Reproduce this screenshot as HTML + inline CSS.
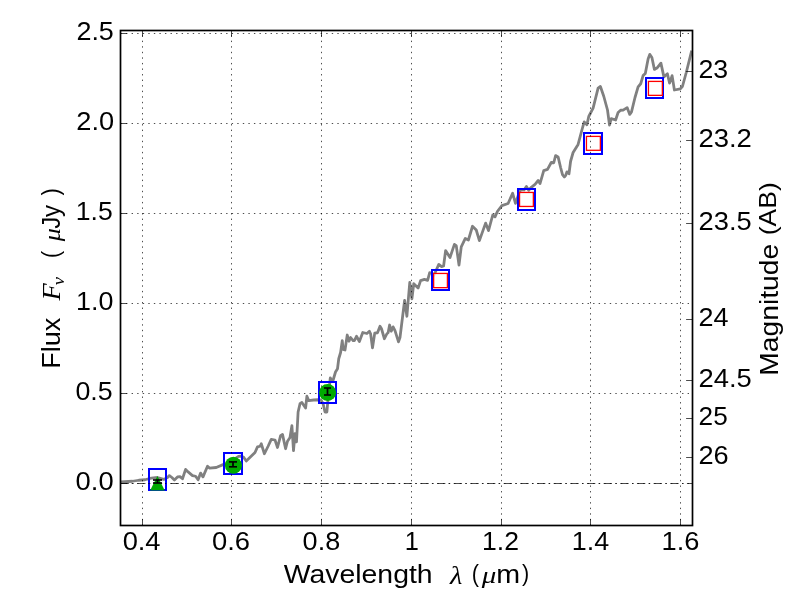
<!DOCTYPE html>
<html lang="en">
<head>
<meta charset="utf-8">
<title>Flux vs Wavelength</title>
<style>
html,body{margin:0;padding:0;background:#fff;}
body{width:800px;height:600px;overflow:hidden;font-family:"Liberation Sans",sans-serif;}
svg{display:block;}
text{fill:#000;}
</style>
</head>
<body>
<svg width="800" height="600" viewBox="0 0 800 600">
<rect x="0" y="0" width="800" height="600" fill="#ffffff"/>
<defs><clipPath id="ax"><rect x="120.5" y="30.5" width="572.0" height="495.0"/></clipPath></defs>
<g clip-path="url(#ax)">
<polyline points="120.5,482 132.5,481.25 138.75,480.25 145,479.75 151.25,478.1 157.5,477.5 163.75,479.4 167.5,477.5 169.4,475.6 171.9,477.5 174.4,480 177.5,476.9 180,476.6 182.5,478.75 185.6,469.4 188.1,471.9 192.5,475.6 195.6,476.25 198.1,479.75 200.6,473.1 203,476.9 207.5,466.25 209.4,468.1 216.25,467.5 223.1,464.6 229,463 234.5,460 236.5,457.6 238.5,456.4 240.5,456.1 243.5,457 246.25,461 255,452.5 257.5,446.9 260,446.25 261.25,443.75 264.4,453.75 268.1,446.25 271.25,439.4 275,440 277.5,447.5 280.6,435.6 282.5,434.4 285.6,448.75 287.5,441.25 290,437.5 291.9,425.6 293.5,450.6 295,433.75 296.5,441.9 298.1,412 300,403.75 301.9,402.5 305.6,408.1 306.9,396.25 308.75,400.6 313.75,400 318.1,399.75 321,400 323.1,403.75 325,412 326.9,412 327.6,403.75 329,390 330.3,377.8 331.5,380.5 333,380.5 335.5,372 337.5,368.75 338.75,358.75 340.6,352.5 342.25,340.6 343.1,349.4 345,350 347.25,335 349,341.25 350.6,337.5 353.1,340.6 354.4,340.6 356.5,336.25 359.4,341.5 362.75,332.5 366.9,333.5 369.4,331.25 370.6,333.75 372.5,347.75 374.75,333.1 377.5,332.75 380,326.25 381.5,328.75 384.4,338.75 386.9,333.75 388.1,332.75 389.6,325 391.25,331.25 393.1,326.9 395,330.6 398.5,341.9 400,337.5 403.1,312.5 404.6,300.5 406.9,316.25 409.75,282.5 411.9,298.75 413.75,283.75 418.1,288.1 420.6,280.6 424.4,279.4 427.6,280.3 429.7,272.6 431.5,273.2 434,275.2 436.5,269.5 438.8,264.4 441.6,266.6 443.6,266 445.6,250.6 450,257.5 454.4,244.4 456.25,245.6 459,265 461.25,246.9 465.3,238.4 468.4,240 472.5,226.25 476.25,230 479.4,240.6 485.6,223.1 488.5,230.6 492.75,215 495,216.9 497.5,211.25 501.9,205.6 508.1,203.5 512.6,193.2 515.5,203.4 517.75,196.9 519.5,191.5 521.5,189.6 524,190 526.4,186.4 528.7,190.2 531.3,187.3 535,184.4 538.2,180.5 540,183.6 543.75,170.6 547.5,169.4 551.25,162.5 553.75,162.75 555.6,155.6 558.1,156.9 560.6,167.5 562.5,174.6 564.3,177 565.7,175.3 566.9,171.9 569,173.75 570.6,161.25 573.1,152.5 578.1,144.4 581.9,130 584.2,121.9 586.9,124.7 588.75,116.5 593.1,108.1 598.1,88.1 600.4,86.5 603.75,96.25 607.5,110 609.5,125 611.25,118.7 615.6,120 618.1,112.5 620.6,110.25 623.1,110.1 627.1,107.6 629.75,114.4 631.5,111.9 635,97.5 638.1,86.9 640.7,83.75 643.1,75.6 645.3,73.4 648.1,59 649.75,54.4 651.9,57.5 654.4,69.4 656.9,68.1 660.9,63.1 663.9,76.9 667.4,73.75 669.6,83.1 672.1,75.6 674.4,90 680.3,88.9 682.5,86.25 686.25,72.5 691.7,50.6" fill="none" stroke="#808080" stroke-width="2.78" stroke-linejoin="round" stroke-linecap="butt"/>
<line x1="120.5" y1="483.5" x2="692.5" y2="483.5" stroke="#000" stroke-width="0.7" stroke-dasharray="8.33 3.47 1.39 3.47"/>
<rect x="149" y="469" width="17" height="21" fill="none" stroke="#0000ff" stroke-width="2.0"/>
<rect x="224" y="453" width="18" height="21" fill="none" stroke="#0000ff" stroke-width="2.0"/>
<rect x="319" y="382" width="17" height="21" fill="none" stroke="#0000ff" stroke-width="2.0"/>
<rect x="432" y="270" width="17" height="20" fill="none" stroke="#0000ff" stroke-width="2.0"/>
<rect x="518" y="189" width="17" height="21" fill="none" stroke="#0000ff" stroke-width="2.0"/>
<rect x="584" y="133" width="18" height="21" fill="none" stroke="#0000ff" stroke-width="2.0"/>
<rect x="646" y="78" width="17" height="20" fill="none" stroke="#0000ff" stroke-width="2.0"/>
<rect x="433.65" y="273.45" width="13.75" height="14.2" fill="#ffffff" fill-opacity="0.8" stroke="#ff0000" stroke-width="1.3"/>
<rect x="519.55" y="192.45" width="13.8" height="14" fill="#ffffff" fill-opacity="0.8" stroke="#ff0000" stroke-width="1.3"/>
<rect x="586.45" y="136.4" width="13.9" height="13.9" fill="#ffffff" fill-opacity="0.8" stroke="#ff0000" stroke-width="1.3"/>
<rect x="648.45" y="81.41" width="13.9" height="13.94" fill="#ffffff" fill-opacity="0.8" stroke="#ff0000" stroke-width="1.3"/>
</g>
<g stroke="#000" stroke-width="0.7" stroke-dasharray="1.39 4.17" fill="none">
<line x1="142.5" y1="525.8" x2="142.5" y2="30.5"/>
<line x1="231.5" y1="525.8" x2="231.5" y2="30.5"/>
<line x1="321.5" y1="525.8" x2="321.5" y2="30.5"/>
<line x1="411.5" y1="525.8" x2="411.5" y2="30.5"/>
<line x1="501.5" y1="525.8" x2="501.5" y2="30.5"/>
<line x1="590.5" y1="525.8" x2="590.5" y2="30.5"/>
<line x1="680.5" y1="525.8" x2="680.5" y2="30.5"/>
<line x1="120.5" y1="33.5" x2="692.5" y2="33.5"/>
<line x1="120.5" y1="123.5" x2="692.5" y2="123.5"/>
<line x1="120.5" y1="213.5" x2="692.5" y2="213.5"/>
<line x1="120.5" y1="303.5" x2="692.5" y2="303.5"/>
<line x1="120.5" y1="393.5" x2="692.5" y2="393.5"/>
<line x1="120.5" y1="483.5" x2="692.5" y2="483.5"/>
</g>
<g>
<polygon points="157.45,476.0 150.1,490.6 164.8,490.6" fill="#00aa00"/>
<circle cx="233.4" cy="465.3" r="8.55" fill="#00aa00"/>
<circle cx="327.6" cy="392.4" r="8.5" fill="#00aa00"/>
<g stroke="#000" fill="none"><line x1="157.5" y1="480.0" x2="157.5" y2="483.0" stroke-width="1.75"/><line x1="153.0" y1="480.0" x2="162.0" y2="480.0" stroke-width="1.65"/><line x1="153.0" y1="483.0" x2="162.0" y2="483.0" stroke-width="1.65"/></g>
<g stroke="#000" fill="none"><line x1="233.0" y1="461.9" x2="233.0" y2="466.8" stroke-width="1.75"/><line x1="228.95" y1="461.9" x2="237.0" y2="461.9" stroke-width="1.65"/><line x1="228.95" y1="466.8" x2="237.0" y2="466.8" stroke-width="1.65"/></g>
<g stroke="#000" fill="none"><line x1="327.5" y1="388.0" x2="327.5" y2="395.0" stroke-width="1.75"/><line x1="324.0" y1="388.0" x2="331.0" y2="388.0" stroke-width="1.65"/><line x1="324.0" y1="395.0" x2="331.0" y2="395.0" stroke-width="1.65"/></g>
</g>
<rect x="120.5" y="30.5" width="572.0" height="495.0" fill="none" stroke="#000" stroke-width="1.7"/>
<g stroke="#000" stroke-width="0.7">
<line x1="142.5" y1="525.5" x2="142.5" y2="519.1"/><line x1="142.5" y1="30.5" x2="142.5" y2="36.9"/>
<line x1="231.5" y1="525.5" x2="231.5" y2="519.1"/><line x1="231.5" y1="30.5" x2="231.5" y2="36.9"/>
<line x1="321.5" y1="525.5" x2="321.5" y2="519.1"/><line x1="321.5" y1="30.5" x2="321.5" y2="36.9"/>
<line x1="411.5" y1="525.5" x2="411.5" y2="519.1"/><line x1="411.5" y1="30.5" x2="411.5" y2="36.9"/>
<line x1="501.5" y1="525.5" x2="501.5" y2="519.1"/><line x1="501.5" y1="30.5" x2="501.5" y2="36.9"/>
<line x1="590.5" y1="525.5" x2="590.5" y2="519.1"/><line x1="590.5" y1="30.5" x2="590.5" y2="36.9"/>
<line x1="680.5" y1="525.5" x2="680.5" y2="519.1"/><line x1="680.5" y1="30.5" x2="680.5" y2="36.9"/>
<line x1="120.5" y1="33.5" x2="126.9" y2="33.5"/>
<line x1="120.5" y1="123.5" x2="126.9" y2="123.5"/>
<line x1="120.5" y1="213.5" x2="126.9" y2="213.5"/>
<line x1="120.5" y1="303.5" x2="126.9" y2="303.5"/>
<line x1="120.5" y1="393.5" x2="126.9" y2="393.5"/>
<line x1="120.5" y1="483.5" x2="126.9" y2="483.5"/>
<line x1="692.5" y1="71.5" x2="686.1" y2="71.5"/>
<line x1="692.5" y1="140.5" x2="686.1" y2="140.5"/>
<line x1="692.5" y1="223.5" x2="686.1" y2="223.5"/>
<line x1="692.5" y1="319.5" x2="686.1" y2="319.5"/>
<line x1="692.5" y1="380.5" x2="686.1" y2="380.5"/>
<line x1="692.5" y1="418.5" x2="686.1" y2="418.5"/>
<line x1="692.5" y1="457.5" x2="686.1" y2="457.5"/>
</g>
<g style="opacity:0.999;will-change:transform">
<text transform="matrix(0.26963 0 0 0.25352 76.395 39.746)" font-family="'Liberation Sans', sans-serif" font-size="100">2.5</text>
<text transform="matrix(0.27218 0 0 0.25477 76.331 129.745)" font-family="'Liberation Sans', sans-serif" font-size="100">2.0</text>
<text transform="matrix(0.26565 0 0 0.25714 75.785 219.743)" font-family="'Liberation Sans', sans-serif" font-size="100">1.5</text>
<text transform="matrix(0.26904 0 0 0.25352 75.999 309.746)" font-family="'Liberation Sans', sans-serif" font-size="100">1.0</text>
<text transform="matrix(0.26792 0 0 0.25352 75.470 399.746)" font-family="'Liberation Sans', sans-serif" font-size="100">0.5</text>
<text transform="matrix(0.27358 0 0 0.25537 75.577 489.745)" font-family="'Liberation Sans', sans-serif" font-size="100">0.0</text>
<text transform="matrix(0.27275 0 0 0.25352 122.630 549.746)" font-family="'Liberation Sans', sans-serif" font-size="100">0.4</text>
<text transform="matrix(0.27361 0 0 0.25372 212.058 549.746)" font-family="'Liberation Sans', sans-serif" font-size="100">0.6</text>
<text transform="matrix(0.27049 0 0 0.25414 302.620 549.746)" font-family="'Liberation Sans', sans-serif" font-size="100">0.8</text>
<text transform="matrix(0.25370 0 0 0.26116 404.798 550.000)" font-family="'Liberation Sans', sans-serif" font-size="100">1</text>
<text transform="matrix(0.26589 0 0 0.25714 481.976 550.000)" font-family="'Liberation Sans', sans-serif" font-size="100">1.2</text>
<text transform="matrix(0.26910 0 0 0.25714 571.781 550.000)" font-family="'Liberation Sans', sans-serif" font-size="100">1.4</text>
<text transform="matrix(0.27256 0 0 0.25352 661.537 549.746)" font-family="'Liberation Sans', sans-serif" font-size="100">1.6</text>
<text transform="matrix(0.26701 0 0 0.25380 698.461 77.746)" font-family="'Liberation Sans', sans-serif" font-size="100">23</text>
<text transform="matrix(0.27447 0 0 0.25412 698.464 146.746)" font-family="'Liberation Sans', sans-serif" font-size="100">23.2</text>
<text transform="matrix(0.27295 0 0 0.25352 698.544 229.746)" font-family="'Liberation Sans', sans-serif" font-size="100">23.5</text>
<text transform="matrix(0.26978 0 0 0.25714 698.381 326.000)" font-family="'Liberation Sans', sans-serif" font-size="100">24</text>
<text transform="matrix(0.27376 0 0 0.25352 698.529 386.746)" font-family="'Liberation Sans', sans-serif" font-size="100">24.5</text>
<text transform="matrix(0.26153 0 0 0.25352 698.587 424.746)" font-family="'Liberation Sans', sans-serif" font-size="100">25</text>
<text transform="matrix(0.27167 0 0 0.25395 698.388 463.746)" font-family="'Liberation Sans', sans-serif" font-size="100">26</text>
<text transform="matrix(0.28429 0 0 0.25316 283.630 583.080)" font-family="'Liberation Sans', sans-serif" font-size="100">Wavelength</text>
<text transform="matrix(0.28602 0 0 0.24949 449.967 583.629)" font-family="'Liberation Serif', serif" font-size="100" font-style="italic">λ</text>
<text transform="matrix(0.21663 0 0 0.24609 471.785 581.579)" font-family="'Liberation Sans', sans-serif" font-size="100">(</text>
<text transform="matrix(0.29101 0 0 0.24133 481.810 583.242)" font-family="'Liberation Serif', serif" font-size="100" font-style="italic">μ</text>
<text transform="matrix(0.28644 0 0 0.25926 496.338 583.000)" font-family="'Liberation Sans', sans-serif" font-size="100">m</text>
<text transform="matrix(0.21627 0 0 0.24123 521.878 581.158)" font-family="'Liberation Sans', sans-serif" font-size="100">)</text>
<text transform="matrix(0 -0.26984 0.25434 0 60.174 368.658)" font-family="'Liberation Sans', sans-serif" font-size="100">Flux</text>
<text transform="matrix(0 -0.28095 0.25606 0 59.644 300.619)" font-family="'Liberation Serif', serif" font-size="100" font-style="italic">F</text>
<text transform="matrix(0 -0.18636 0.16596 0 63.834 285.186)" font-family="'Liberation Serif', serif" font-size="100" font-style="italic">ν</text>
<text transform="matrix(0 -0.21185 0.24442 0 58.790 258.099)" font-family="'Liberation Sans', sans-serif" font-size="100">(</text>
<text transform="matrix(0 -0.26124 0.23663 0 59.742 241.233)" font-family="'Liberation Serif', serif" font-size="100" font-style="italic">μ</text>
<text transform="matrix(0 -0.23903 0.25665 0 60.323 228.834)" font-family="'Liberation Sans', sans-serif" font-size="100">Jy</text>
<text transform="matrix(0 -0.21719 0.23505 0 58.729 195.381)" font-family="'Liberation Sans', sans-serif" font-size="100">)</text>
<text transform="matrix(0 -0.28269 0.25554 0 778.267 375.722)" font-family="'Liberation Sans', sans-serif" font-size="100">Magnitude</text>
<text transform="matrix(0 -0.26449 0.24431 0 776.209 235.182)" font-family="'Liberation Sans', sans-serif" font-size="100">(AB)</text>
</g>
</svg>
</body>
</html>
